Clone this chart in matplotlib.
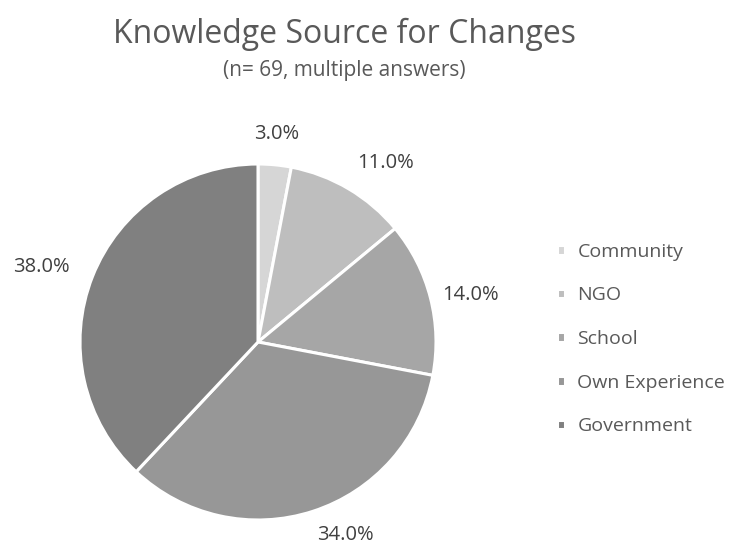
import numpy as np
import matplotlib.pyplot as plt

labels = ['Community', 'NGO', 'School', 'Own Experience', 'Government']
shares = [3.0, 11.0, 14.0, 34.0, 38.0]
colors = ['#d6d6d6', '#bebebe', '#a6a6a6', '#979797', '#808080']
# percent label placement: distance in pie radii and text anchoring
label_dist = [1.12, 1.10, 1.07, 1.08, 1.14]
label_ha = ['center', 'left', 'left', 'left', 'right']
label_va = ['bottom', 'bottom', 'center', 'top', 'center']

plt.rcParams['font.family'] = ['Open Sans', 'DejaVu Sans']

fig = plt.figure(figsize=(7.34, 5.46), dpi=100)
ax = fig.add_axes([80 / 734, 26 / 546, 356 / 734, 356 / 546])

wedges, texts, autotexts = ax.pie(
    shares, colors=colors, startangle=90, counterclock=False,
    autopct='%.1f%%', pctdistance=1.2, radius=1.0,
    wedgeprops=dict(edgecolor='white', linewidth=2.2),
    textprops=dict(color='#404040', fontsize=14.5))
for w, t, d, ha, va in zip(wedges, autotexts, label_dist, label_ha, label_va):
    ang = np.deg2rad((w.theta1 + w.theta2) / 2)
    t.set_position((d * np.cos(ang), d * np.sin(ang)))
    t.set_ha(ha)
    t.set_va(va)
ax.set_xlim(-1, 1)
ax.set_ylim(-1, 1)
ax.set_aspect('equal')

fig.text(0.469, 0.937, 'Knowledge Source for Changes', ha='center', va='center',
         fontsize=23, color='#595959')
fig.text(0.469, 0.870, '(n= 69, multiple answers)', ha='center', va='center',
         fontsize=15, color='#595959')

leg = fig.legend(wedges, labels, loc='center left', bbox_to_anchor=(0.735, 0.379),
                 frameon=False, fontsize=14, handlelength=0.4, handleheight=0.4,
                 handletextpad=0.65, labelspacing=1.32)
for t in leg.get_texts():
    t.set_color('#595959')

fig.savefig('out.png', dpi=100)
